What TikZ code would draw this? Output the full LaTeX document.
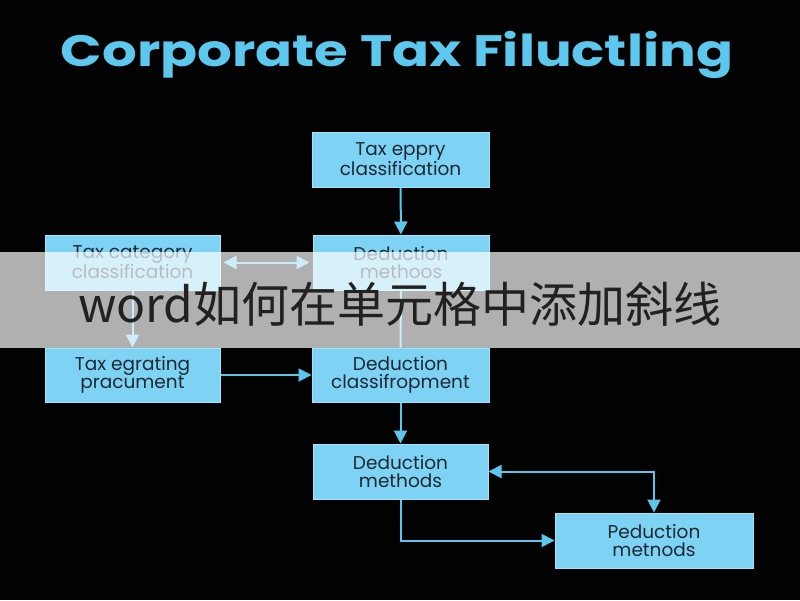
\documentclass[tikz,border=0pt]{standalone}
\usepackage{fontspec}
\setmainfont{Poppins}
\newfontfamily\cjkfont{Noto Sans CJK SC}
\usetikzlibrary{arrows.meta}
\definecolor{bgblack}{HTML}{020202}
\definecolor{boxfill}{HTML}{7ED3F4}
\definecolor{boxedge}{HTML}{A2E2FA}
\definecolor{linecol}{HTML}{5CC6EC}
\definecolor{titlecol}{HTML}{5CC8EE}
\definecolor{boxtext}{HTML}{1C2833}
\tikzset{
  flowbox/.style={rectangle, fill=boxfill, draw=boxedge, line width=1pt,
    text=boxtext, align=center, inner sep=0pt,
    font=\fontsize{18.5}{17.5}\selectfont},
  conn/.style={draw=linecol, line width=2pt,
    -{Triangle[length=13pt,width=13pt]}},
  dconn/.style={draw=linecol, line width=2pt,
    {Triangle[length=13pt,width=13pt]}-{Triangle[length=13pt,width=13pt]}},
  plainconn/.style={draw=linecol, line width=2pt},
}
\begin{document}
\begin{tikzpicture}[x=1pt,y=-1pt]
\useasboundingbox (0,0) rectangle (800,600);
\fill[bgblack] (0,0) rectangle (800,600);
% title
\node[text=titlecol, font=\fontsize{44}{46}\selectfont\bfseries, xscale=1.24, transform shape] (title) at (397,55) {Corporate Tax Filuctling};
% boxes
\node[flowbox, minimum width=177pt, minimum height=55pt] (A) at (400.5,159.5) {Tax eppry\\classification};
\node[flowbox, minimum width=176pt, minimum height=55pt] (B) at (401,262.5) {Deduction\\methoos};
\node[flowbox, minimum width=175pt, minimum height=55pt] (L) at (132.5,262.5) {Tax category\\classification};
\node[flowbox, minimum width=175pt, minimum height=54pt] (C) at (132.5,375) {Tax egrating\\pracument};
\node[flowbox, minimum width=177pt, minimum height=54pt] (D) at (400.5,375) {Deduction\\classifropment};
\node[flowbox, minimum width=175pt, minimum height=55pt] (E) at (400.5,471.5) {Deduction\\methods};
\node[flowbox, minimum width=198pt, minimum height=55pt] (F) at (654,540.5) {Peduction\\metnods};
% connectors
\draw[conn] (A) -- (B);
\draw[dconn, shorten <=3pt, shorten >=3pt] (L) -- (B);
\draw[conn] (L) -- (C);
\draw[conn] (C) -- (D);
\draw[plainconn] (B) -- (D);
\draw[conn] (D) -- (E);
\draw[dconn] (E.east) -| (F.north);
\draw[conn] (E.south) |- (F.west);
% overlay band
\fill[white, opacity=0.69] (0,252) rectangle (800,348);
\node[text=black!87, font=\cjkfont\fontsize{48}{52}\selectfont] (band) at (400,304) {word如何在单元格中添加斜线};
\end{tikzpicture}
\end{document}
